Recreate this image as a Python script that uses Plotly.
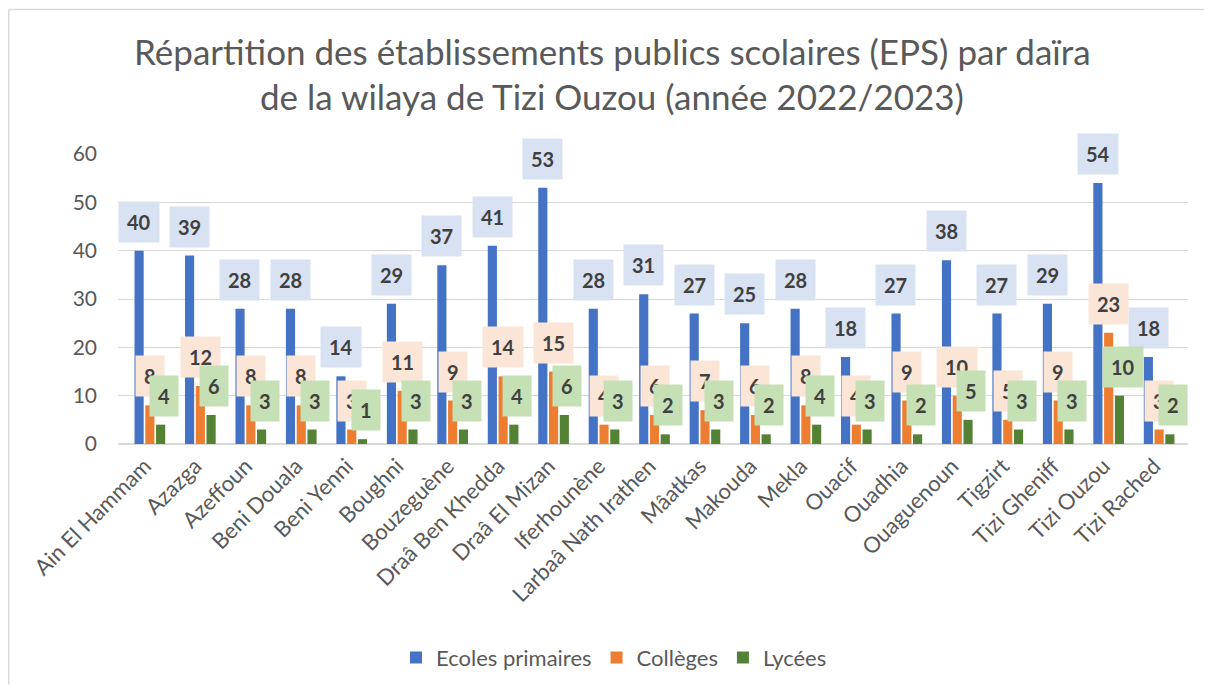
import plotly.graph_objects as go

dairas = ["Ain El Hammam", "Azazga", "Azeffoun", "Beni Douala", "Beni Yenni", "Boughni",
          "Bouzeguène", "Draâ Ben Khedda", "Draâ El Mizan", "Iferhounène", "Larbaâ Nath Irathen",
          "Mâatkas", "Makouda", "Mekla", "Ouacif", "Ouadhia", "Ouaguenoun", "Tigzirt",
          "Tizi Gheniff", "Tizi Ouzou", "Tizi Rached"]
ecoles = [40, 39, 28, 28, 14, 29, 37, 41, 53, 28, 31, 27, 25, 28, 18, 27, 38, 27, 29, 54, 18]
colleges = [8, 12, 8, 8, 3, 11, 9, 14, 15, 4, 6, 7, 6, 8, 4, 9, 10, 5, 9, 23, 3]
lycees = [4, 6, 3, 3, 1, 3, 3, 4, 6, 3, 2, 3, 2, 4, 3, 2, 5, 3, 3, 10, 2]

series = [
    ("Ecoles primaires", ecoles, "#4472C4", "#D9E2F3"),
    ("Collèges", colleges, "#ED7D31", "#FBE5D6"),
    ("Lycées", lycees, "#548235", "#C5E0B4"),
]

# the page body adds an 8px margin on every side, so the figure is smaller than the window
W, H = 1196, 677
ML, MR, MT, MB = 110, 16, 145.5, 241
PW = W - ML - MR
PH = H - MT - MB
BARGAP = 0.36
FONT = "Lato"

fig = go.Figure()
for name, vals, col, _ in series:
    fig.add_trace(go.Bar(name=name, x=dairas, y=vals, marker_color=col,
                         marker_line_width=0))

cat_w = PW / len(dairas)
bar_slot = cat_w * (1 - BARGAP) / 3
annotations = []
for i, (name, vals, col, bg) in enumerate(series):
    for d, v in zip(dairas, vals):
        annotations.append(dict(
            x=d, y=v, xref="x", yref="y", text=f"<b>{v}</b>", showarrow=False,
            xanchor="center", yanchor="bottom", xshift=(i - 1) * bar_slot + (3 if i == 2 else 0),
            yshift=8, bgcolor=bg, borderpad=8,
            font=dict(family=FONT, size=20, color="#404040")))

def py(p):
    return (H - MB - p) / PH

def px(p):
    return (p - ML) / PW

annotations.append(dict(text="Répartition des établissements publics scolaires (EPS) par daïra",
                        x=px(604), y=py(42), xref="paper", yref="paper", showarrow=False,
                        xanchor="center", yanchor="middle",
                        font=dict(family=FONT, size=35, color="#595959")))
annotations.append(dict(text="de la wilaya de Tizi Ouzou (année 2022/2023)",
                        x=px(604), y=py(87), xref="paper", yref="paper", showarrow=False,
                        xanchor="center", yanchor="middle",
                        font=dict(family=FONT, size=35, color="#595959")))

border = dict(color="#D9D9D9", width=1.5)
fig.update_layout(
    width=W, height=H,
    margin=dict(l=ML, r=MR, t=MT, b=MB, autoexpand=False),
    paper_bgcolor="white", plot_bgcolor="white",
    barmode="group", bargap=BARGAP, bargroupgap=0.15,
    annotations=annotations,
    font=dict(family=FONT, color="#595959"),
    showlegend=True,
    legend=dict(orientation="h", x=px(606), xanchor="center",
                y=py(650), yanchor="middle", font=dict(size=22, color="#595959"),
                itemwidth=30, traceorder="normal"),
    shapes=[
        dict(type="line", xref="paper", yref="paper", x0=px(0.75), x1=px(0.75),
             y0=py(H), y1=py(0.75), line=border, layer="below"),
        dict(type="line", xref="paper", yref="paper", x0=px(0.75), x1=px(W),
             y0=py(0.75), y1=py(0.75), line=border, layer="below"),
    ],
)
fig.update_yaxes(range=[0, 60], dtick=10, showgrid=True, gridcolor="#D9D9D9", gridwidth=1.3,
                 zeroline=True, zerolinecolor="#D9D9D9", zerolinewidth=1.5, automargin=False,
                 tickfont=dict(size=21, color="#595959"), ticks="", showline=False,
                 ticklabelstandoff=20)
fig.update_xaxes(tickangle=-45, tickfont=dict(size=22, color="#595959"), showline=False,
                 ticks="", automargin=False, ticklabelstandoff=4, ticklabelshift=-5)

fig.write_html("out.html")
